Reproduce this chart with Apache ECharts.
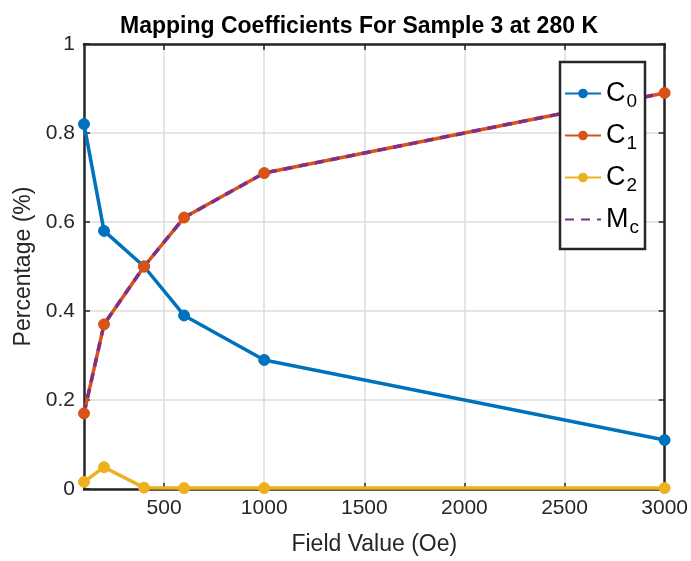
<!DOCTYPE html>
<html><head><meta charset="utf-8">
<script src="https://cdn.jsdelivr.net/npm/echarts@6/dist/echarts.min.js"></script>
<style>html,body{margin:0;padding:0;background:#fff}#c{width:691px;height:561px}</style>
</head><body><div id="c"></div>
<script>
const fieldValues = [100, 200, 400, 600, 1000, 3000];
const c0 = [0.82, 0.58, 0.50, 0.39, 0.29, 0.11];
const c1 = [0.17, 0.37, 0.50, 0.61, 0.71, 0.89];
const c2 = [0.016, 0.049, 0.003, 0.002, 0.002, 0.002];
const mc = [0.17, 0.37, 0.50, 0.61, 0.71, 0.89];
const xTicks = [500, 1000, 1500, 2000, 2500, 3000];
const yTicks = [0, 0.2, 0.4, 0.6, 0.8, 1];
const seriesNames = ['C0', 'C1', 'C2', 'Mc'];
const subs = {C0: ['C','0'], C1: ['C','1'], C2: ['C','2'], Mc: ['M','c']};

const pts = arr => fieldValues.map((x, i) => [x, arr[i]]);
const FONT = 'Liberation Sans';
const AX = '#262626';

const chart = echarts.init(document.getElementById('c'), null, {renderer: 'canvas'});
const lineSeries = (name, data, color, opts) => Object.assign({
  name, type: 'line', data: pts(data), symbol: 'circle', symbolSize: 11,
  lineStyle: {color, width: 3.5}, itemStyle: {color, borderColor: color},
  emphasis: {disabled: true}, animation: false
}, opts || {});

chart.setOption({
  animation: false,
  title: {
    text: 'Mapping Coefficients For Sample 3 at 280 K',
    left: 354, textAlign: 'center', top: 10,
    textStyle: {fontFamily: FONT, fontWeight: 'bold', fontSize: 23, color: '#000'}
  },
  grid: {left: 84, right: 26, top: 44, bottom: 71, containLabel: false},
  xAxis: [{
    type: 'value', min: 100, max: 3000,
    name: 'Field Value (Oe)', nameLocation: 'middle', nameGap: 44,
    nameTextStyle: {fontFamily: FONT, fontSize: 23, color: AX},
    axisLine: {onZero: false, lineStyle: {color: AX, width: 2.5}},
    axisTick: {inside: true, length: 6, customValues: xTicks, lineStyle: {color: AX, width: 1.5}},
    axisLabel: {customValues: xTicks, fontFamily: FONT, fontSize: 21, color: AX, margin: 9,
      formatter: v => String(v)},
    splitLine: {show: true, lineStyle: {color: '#dcdcdc', width: 1.5}}
  }, {
    type: 'value', min: 100, max: 3000, position: 'top',
    axisLine: {onZero: false, lineStyle: {color: AX, width: 2.5}},
    axisTick: {inside: true, length: 6, customValues: xTicks, lineStyle: {color: AX, width: 1.5}},
    axisLabel: {show: false}, splitLine: {show: false}
  }],
  yAxis: [{
    type: 'value', min: 0, max: 1, interval: 0.2,
    name: 'Percentage (%)', nameLocation: 'middle', nameGap: 46,
    nameTextStyle: {fontFamily: FONT, fontSize: 23, color: AX},
    axisLine: {show: true, onZero: false, lineStyle: {color: AX, width: 2.5}},
    axisTick: {show: true, inside: true, length: 6, lineStyle: {color: AX, width: 1.5}},
    axisLabel: {fontFamily: FONT, fontSize: 21, color: AX, margin: 9,
      formatter: v => String(Math.round(v * 10) / 10)},
    splitLine: {show: true, lineStyle: {color: '#dcdcdc', width: 1.5}}
  }, {
    type: 'value', min: 0, max: 1, interval: 0.2, position: 'right',
    axisLine: {show: true, onZero: false, lineStyle: {color: AX, width: 2.5}},
    axisTick: {show: true, inside: true, length: 6, lineStyle: {color: AX, width: 1.5}},
    axisLabel: {show: false}, splitLine: {show: false}
  }],
  legend: {
    orient: 'vertical', right: 46, top: 62,
    backgroundColor: '#fff', borderColor: '#262626', borderWidth: 2.5,
    padding: [18, 6, 12, 4], itemGap: 11, itemWidth: 36, itemHeight: 12,
    data: ['C0', 'C1', 'C2', {name: 'Mc', itemStyle: {opacity: 0}}],
    formatter: n => '{a|' + subs[n][0] + '}{b|' + subs[n][1] + '}',
    textStyle: {
      fontFamily: FONT, color: '#000',
      rich: {
        a: {fontFamily: FONT, fontSize: 27, color: '#000'},
        b: {fontFamily: FONT, fontSize: 19, color: '#000', padding: [16, 0, 0, 1]}
      }
    }
  },
  series: [
    lineSeries('C0', c0, '#0072BD'),
    lineSeries('C1', c1, '#D95319'),
    lineSeries('C2', c2, '#EDB120'),
    lineSeries('Mc', mc, '#7E2F8E', {symbol: 'none', lineStyle: {color: '#7E2F8E', width: 3.5, type: [9, 7]}})
  ]
});
</script></body></html>
